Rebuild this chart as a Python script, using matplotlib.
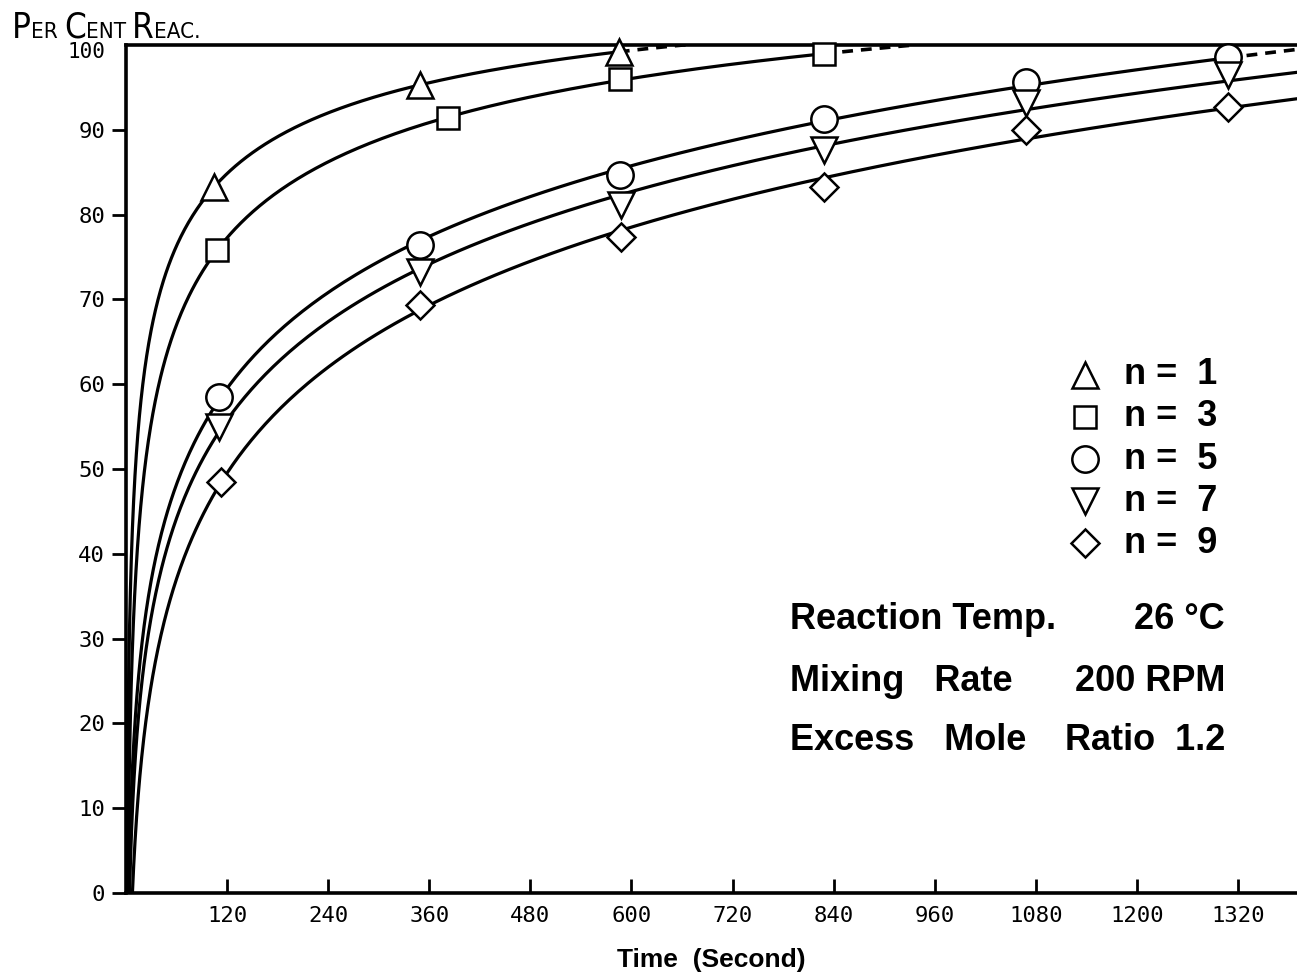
import numpy as np
import matplotlib
matplotlib.use('Agg')
import matplotlib.pyplot as plt

# ========================
# Data
# ========================
series_labels = ['n =  1', 'n =  3', 'n =  5', 'n =  7', 'n =  9']

time_n1 = [105, 349, 585]
react_n1 = [83.3, 95.3, 99.2]

time_n3 = [108, 382, 586, 828]
react_n3 = [75.8, 91.4, 96.0, 98.9]

time_n5 = [110, 349, 586, 828, 1068, 1308]
react_n5 = [58.5, 76.4, 84.7, 91.3, 95.6, 98.6]

time_n7 = [110, 349, 588, 828, 1068, 1308]
react_n7 = [55.0, 73.2, 81.1, 87.6, 93.2, 96.5]

time_n9 = [113, 349, 588, 829, 1068, 1308]
react_n9 = [48.5, 69.3, 77.4, 83.3, 90.0, 92.7]

x_ticks = [120, 240, 360, 480, 600, 720, 840, 960, 1080, 1200, 1320]
y_ticks = [0, 10, 20, 30, 40, 50, 60, 70, 80, 90, 100]

conditions_left = ['Reaction Temp.', 'Mixing   Rate', 'Excess   Mole']
conditions_right = ['26 °C', '200 RPM', 'Ratio  1.2']

# ========================
# Style / fit settings
# ========================
X_MAX = 1390
markers = ['^', 's', 'o', 'v', 'D']
marker_sizes = [19, 16, 19, 19, 14.5]
fit_degree = [2, 2, 1, 1, 1]          # polynomial degree in ln(t)
solid_to_edge = [False, False, False, True, True]
dash_end = [668, 933, 1390, None, None]

TEXT_FONT = 'Liberation Sans'
TICK_FONT = 'DejaVu Sans Mono'


def fit_curve(t, y, deg):
    """Smooth guide curve through the points: polynomial in ln(t), kept in 0..100."""
    coef = np.polyfit(np.log(t), y, deg)
    return lambda tt: np.clip(np.polyval(coef, np.log(tt)), 0, 100)


def curve_points(f, t_start, t_end, from_origin=True):
    tt = np.geomspace(max(t_start, 0.2), t_end, 500)
    yy = f(tt)
    if from_origin:
        keep = yy > 0
        return np.r_[0, tt[keep]], np.r_[0, yy[keep]]
    return tt, yy


times = [time_n1, time_n3, time_n5, time_n7, time_n9]
reacts = [react_n1, react_n3, react_n5, react_n7, react_n9]

fig = plt.figure(figsize=(12.97, 9.73), dpi=100)
ax = fig.add_axes([0.0971, 0.0822, 0.9029, 0.8715])

for i, (t, y) in enumerate(zip(times, reacts)):
    f = fit_curve(t, y, fit_degree[i])
    t_solid = X_MAX if solid_to_edge[i] else t[-1]
    xs, ys = curve_points(f, 0.2, t_solid)
    ax.plot(xs, ys, color='black', lw=2.3, solid_capstyle='round', zorder=2)
    if dash_end[i] is not None:
        xd, yd = curve_points(f, t[-1], dash_end[i], from_origin=False)
        ax.plot(xd, yd, color='black', lw=2.6, linestyle=(0, (3, 2.2)), zorder=2)
    ax.plot(t, y, linestyle='none', marker=markers[i], ms=marker_sizes[i],
            mfc='white', mec='black', mew=1.8, zorder=3, clip_on=False)

# legend drawn by hand (markers + bold labels)
leg_x, leg_tx, leg_y0, leg_dy = 0.819, 0.852, 0.611, 0.0496
for i, lab in enumerate(series_labels):
    yy = leg_y0 - i * leg_dy
    ax.plot([leg_x], [yy], transform=ax.transAxes, linestyle='none',
            marker=markers[i], ms=marker_sizes[i], mfc='white', mec='black',
            mew=1.8, clip_on=False)
    ax.text(leg_tx, yy, lab, transform=ax.transAxes, va='center', ha='left',
            fontsize=26, fontweight='bold', family=TEXT_FONT)

# experimental conditions
cond_y = [0.322, 0.249, 0.180]
for yy, left, right in zip(cond_y, conditions_left, conditions_right):
    ax.text(0.567, yy, left, transform=ax.transAxes, va='center', ha='left',
            fontsize=26, fontweight='bold', family=TEXT_FONT)
    ax.text(0.9385, yy, right, transform=ax.transAxes, va='center', ha='right',
            fontsize=26, fontweight='bold', family=TEXT_FONT)

# axes
ax.set_xlim(0, X_MAX)
ax.set_ylim(0, 100)
ax.set_xticks(x_ticks)
ax.set_yticks(y_ticks)
ax.set_xticklabels([str(v) for v in x_ticks], family=TICK_FONT, fontsize=16)
ax.set_yticklabels([str(v) for v in y_ticks[:-1]] + [''], family=TICK_FONT, fontsize=16)
ax.tick_params(axis='x', direction='in', length=10, width=2, pad=9)
ax.tick_params(axis='y', direction='out', length=10, width=2, pad=5)
ax.yaxis.get_major_ticks()[-1].tick1line.set_visible(False)
# the top label sits a little lower than its tick position
ax.annotate(str(y_ticks[-1]), xy=(0, y_ticks[-1]), xycoords=ax.get_yaxis_transform(),
            xytext=(-15, -5), textcoords='offset points', ha='right', va='center',
            family=TICK_FONT, fontsize=15, annotation_clip=False)
for side in ['left', 'bottom', 'top']:
    ax.spines[side].set_linewidth(2.6)
ax.spines['right'].set_visible(False)

ax.set_xlabel('Time  (Second)', fontsize=19, fontweight='bold',
              family=TEXT_FONT, labelpad=16)

# hand-lettered small-caps y label at the top left
pieces = [('P', 25), ('ER ', 16), ('C', 25), ('ENT ', 16), ('R', 25), ('EAC.', 16)]
renderer = fig.canvas.get_renderer()
x = 0.009
for s, size in pieces:
    txt = fig.text(x, 0.961, s, fontsize=size, family='DejaVu Sans',
                   fontstretch='condensed', va='baseline', ha='left')
    bb = txt.get_window_extent(renderer)
    x = fig.transFigure.inverted().transform((bb.x1, bb.y0))[0]

fig.savefig('out.png', dpi=100)
plt.close(fig)
